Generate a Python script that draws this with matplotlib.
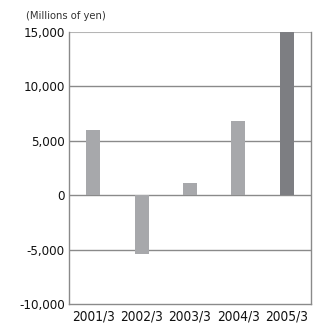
import matplotlib
matplotlib.use("Agg")
import matplotlib.pyplot as plt

categories = ["2001/3", "2002/3", "2003/3", "2004/3", "2005/3"]
values = [6000, -5400, 1130, 6800, 15000]
yticks = [-10000, -5000, 0, 5000, 10000, 15000]
ytick_labels = ["-10,000", "-5,000", "0", "5,000", "10,000", "15,000"]
unit_label = "(Millions of yen)"

plt.rcParams['font.family'] = ['DejaVu Sans']
plt.rcParams['font.stretch'] = 'condensed'

fig = plt.figure(figsize=(3.24, 3.26), dpi=100)
ax = fig.add_axes([0.213, 0.0675, 0.747, 0.8345])

colors = ['#a7a8ab'] * 4 + ['#7d7e82']
x = range(len(categories))
ax.bar(x, values, width=0.29, color=colors, zorder=3)

ax.set_xlim(-0.5, 4.5)
ax.set_ylim(-10000, 15000)
ax.set_yticks(yticks)
ax.set_yticklabels(ytick_labels, fontsize=9.5, fontstretch='condensed')
ax.set_xticks(list(x))
ax.set_xticklabels(categories, fontsize=9.8, fontstretch='condensed')
ax.tick_params(length=0, pad=3, colors='#111111')
ax.tick_params(axis='x', pad=4)

for y in yticks[1:-1]:
    ax.axhline(y, color='#8a8a8a', lw=1.0, zorder=1)
ax.axhline(15000, color='#b5b5b5', lw=1.5, zorder=1)

for s in ['left', 'right', 'bottom']:
    ax.spines[s].set_color('#8a8a8a')
    ax.spines[s].set_linewidth(1.0)
ax.spines['top'].set_visible(False)

fig.text(0.08, 0.935, unit_label, fontsize=8, color='#333333', ha='left', va='bottom',
         fontstretch='condensed')

fig.savefig("out.png", dpi=100)
